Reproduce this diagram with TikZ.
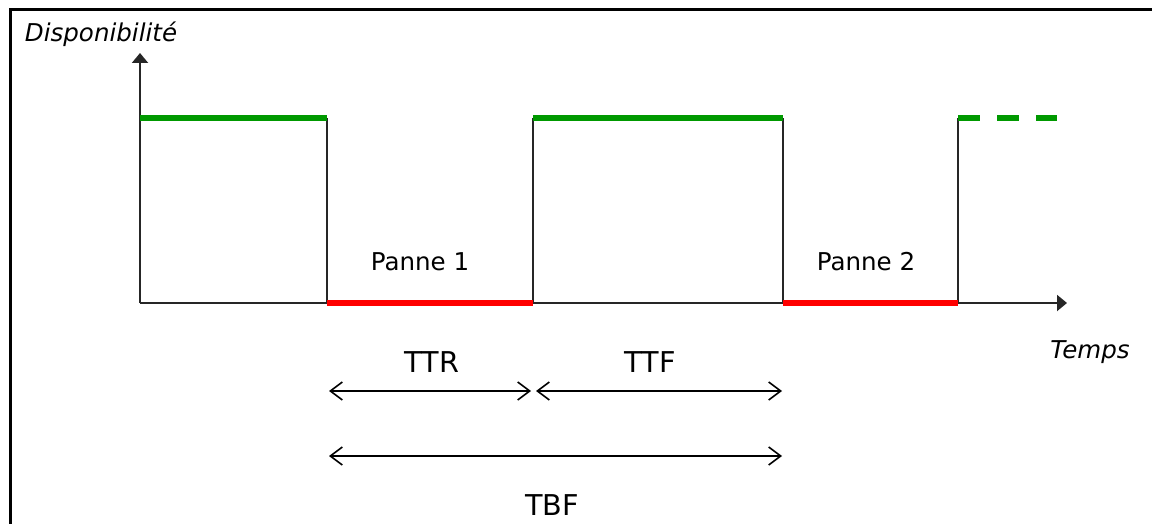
\documentclass[tikz,border=0pt]{standalone}
\usepackage{fontspec}
\setmainfont{DejaVu Sans}
\usetikzlibrary{arrows.meta}
\tikzset{every picture/.style={line width=0.75pt}}
\definecolor{upgreen}{RGB}{0,153,0}
\definecolor{downred}{RGB}{255,0,0}
\tikzset{
  axisline/.style={line width=1.5pt,black!85},
  upstate/.style={line width=4.2pt,upgreen},
  downstate/.style={line width=4.2pt,downred},
  spanarrow/.style={line width=1.2pt,{Straight Barb[length=9pt,width=13.5pt]}-{Straight Barb[length=9pt,width=13.5pt]}},
  bigtext/.style={font=\fontsize{21.5}{25}\selectfont,anchor=base,inner sep=0pt},
  smalltext/.style={font=\fontsize{18.4}{22}\selectfont,anchor=base,inner sep=0pt}
}

\begin{document}
\begin{tikzpicture}[x=0.75pt,y=0.75pt,yscale=-1,xscale=1]
\useasboundingbox (0,0) rectangle (1152,524);

%Frame
\draw [line width=2.4pt] (10.5,530) -- (10.5,9.5) -- (1160,9.5) ;

%Points of the time axis
\coordinate (o) at (140,303);
\coordinate (ytip) at (140,53);
\coordinate (xtip) at (1067,303);
\coordinate (a0) at (327,303);
\coordinate (a1) at (327,118);
\coordinate (b0) at (533,303);
\coordinate (b1) at (533,118);
\coordinate (c0) at (783,303);
\coordinate (c1) at (783,118);
\coordinate (d0) at (958,303);
\coordinate (d1) at (958,118);
\coordinate (h0) at (140,118);
\coordinate (h1) at (1057,118);

%Axes
\draw [axisline,-{Triangle[length=7.5pt,width=12pt]}] (o) -- (ytip) ;
\draw [axisline,-{Triangle[length=7.5pt,width=12pt]}] (o) -- (xtip) ;

%Edges
\draw [axisline] (a0) -- (a1) ;
\draw [axisline] (b0) -- (b1) ;
\draw [axisline] (c0) -- (c1) ;
\draw [axisline] (d0) -- (d1) ;

%States
\draw [upstate] (h0) -- (a1) ;
\draw [upstate] (b1) -- (c1) ;
\draw [upstate,dash pattern=on 16.5pt off 12.75pt] (d1) -- (h1) ;
\draw [downstate] (a0) -- (b0) ;
\draw [downstate] (c0) -- (d0) ;

%Spans
\coordinate (ttrL) at (329,391);
\coordinate (ttrR) at (531,391);
\coordinate (ttfL) at (536,391);
\coordinate (ttfR) at (782,391);
\coordinate (tbfL) at (329,456);
\coordinate (tbfR) at (782,456);
\draw [spanarrow] (ttrL) -- (ttrR) ;
\draw [spanarrow] (ttfL) -- (ttfR) ;
\draw [spanarrow] (tbfL) -- (tbfR) ;

% Text Node
\node [smalltext] (panne1) at (420,270) {Panne 1};
% Text Node
\node [smalltext] (panne2) at (866,270) {Panne 2};
% Text Node
\node [bigtext] (ttr) at (432,372) {TTR};
% Text Node
\node [bigtext] (ttf) at (650,372) {TTF};
% Text Node
\node [bigtext] (tbf) at (552,515) {TBF};
% Text Node
\node [smalltext,font=\fontsize{18.4}{22}\selectfont\itshape] (temps) at (1090,358) {Temps};
% Text Node
\node [smalltext,font=\fontsize{18.4}{22}\selectfont\itshape] (dispo) at (101,42) {Disponibilité};

\end{tikzpicture}
\end{document}
